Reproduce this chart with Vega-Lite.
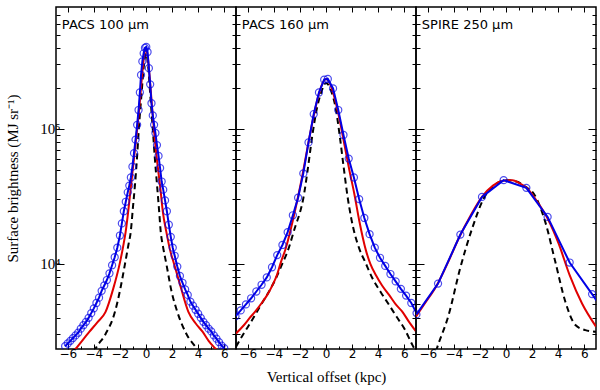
{
  "$schema": "https://vega.github.io/schema/vega-lite/v6.json",
  "padding": {"left": 5, "top": 5, "right": 3, "bottom": 5},
  "background": "white",
  "bounds": "flush",
  "spacing": 0,
  "config": {
    "view": {"stroke": "black", "strokeWidth": 1.5},
    "axis": {"domain": false, "grid": false, "tickColor": "black", "tickWidth": 1, "labelColor": "black", "labelOverlap": false, "labelFlush": false, "titleFontWeight": "normal", "titleColor": "black"}
  },
  "data": {"values": [
    {"p":1,"s":"o","x":-6.2,"v":2455},{"p":1,"s":"o","x":-6.0,"v":2570},{"p":1,"s":"o","x":-5.8,"v":2690},{"p":1,"s":"o","x":-5.6,"v":2820},{"p":1,"s":"o","x":-5.4,"v":2950},{"p":1,"s":"o","x":-5.2,"v":3090},{"p":1,"s":"o","x":-5.0,"v":3310},{"p":1,"s":"o","x":-4.8,"v":3510},{"p":1,"s":"o","x":-4.6,"v":3720},{"p":1,"s":"o","x":-4.4,"v":3980},{"p":1,"s":"o","x":-4.2,"v":4315},{"p":1,"s":"o","x":-4.0,"v":4680},{"p":1,"s":"o","x":-3.8,"v":5130},{"p":1,"s":"o","x":-3.6,"v":5620},{"p":1,"s":"o","x":-3.4,"v":6310},{"p":1,"s":"o","x":-3.2,"v":6920},{"p":1,"s":"o","x":-3.0,"v":7590},{"p":1,"s":"o","x":-2.8,"v":8510},{"p":1,"s":"o","x":-2.6,"v":9770},{"p":1,"s":"o","x":-2.4,"v":11200},{"p":1,"s":"o","x":-2.2,"v":13180},{"p":1,"s":"o","x":-2.0,"v":16220},{"p":1,"s":"o","x":-1.85,"v":19950},{"p":1,"s":"o","x":-1.7,"v":24550},{"p":1,"s":"o","x":-1.55,"v":28840},{"p":1,"s":"o","x":-1.4,"v":33900},{"p":1,"s":"o","x":-1.28,"v":38000},{"p":1,"s":"o","x":-1.16,"v":43650},{"p":1,"s":"o","x":-1.04,"v":52500},{"p":1,"s":"o","x":-0.92,"v":66070},{"p":1,"s":"o","x":-0.8,"v":83180},{"p":1,"s":"o","x":-0.68,"v":107200},{"p":1,"s":"o","x":-0.57,"v":138000},{"p":1,"s":"o","x":-0.47,"v":186200},{"p":1,"s":"o","x":-0.38,"v":251200},{"p":1,"s":"o","x":-0.28,"v":316200},{"p":1,"s":"o","x":-0.18,"v":363100},{"p":1,"s":"o","x":-0.08,"v":398100},{"p":1,"s":"o","x":0.02,"v":404600},{"p":1,"s":"o","x":0.12,"v":371500},{"p":1,"s":"o","x":0.22,"v":281800},{"p":1,"s":"o","x":0.32,"v":213800},{"p":1,"s":"o","x":0.42,"v":154900},{"p":1,"s":"o","x":0.52,"v":125900},{"p":1,"s":"o","x":0.62,"v":107200},{"p":1,"s":"o","x":0.72,"v":93300},{"p":1,"s":"o","x":0.84,"v":75860},{"p":1,"s":"o","x":0.96,"v":63100},{"p":1,"s":"o","x":1.08,"v":51290},{"p":1,"s":"o","x":1.2,"v":40740},{"p":1,"s":"o","x":1.32,"v":35480},{"p":1,"s":"o","x":1.46,"v":29510},{"p":1,"s":"o","x":1.6,"v":24550},{"p":1,"s":"o","x":1.75,"v":19500},{"p":1,"s":"o","x":1.9,"v":15850},{"p":1,"s":"o","x":2.05,"v":13180},{"p":1,"s":"o","x":2.2,"v":11480},{"p":1,"s":"o","x":2.4,"v":9550},{"p":1,"s":"o","x":2.6,"v":8130},{"p":1,"s":"o","x":2.8,"v":7240},{"p":1,"s":"o","x":3.0,"v":6460},{"p":1,"s":"o","x":3.2,"v":5890},{"p":1,"s":"o","x":3.4,"v":5250},{"p":1,"s":"o","x":3.6,"v":4900},{"p":1,"s":"o","x":3.8,"v":4570},{"p":1,"s":"o","x":4.0,"v":4270},{"p":1,"s":"o","x":4.2,"v":3980},{"p":1,"s":"o","x":4.4,"v":3720},{"p":1,"s":"o","x":4.6,"v":3510},{"p":1,"s":"o","x":4.8,"v":3310},{"p":1,"s":"o","x":5.0,"v":3160},{"p":1,"s":"o","x":5.2,"v":2950},{"p":1,"s":"o","x":5.4,"v":2790},{"p":1,"s":"o","x":5.6,"v":2630},{"p":1,"s":"o","x":5.8,"v":2480},{"p":1,"s":"o","x":6.0,"v":2370},
    {"p":1,"s":"m","x":-6.0,"v":2000},{"p":1,"s":"m","x":-5.37,"v":2360},{"p":1,"s":"m","x":-4.35,"v":3130},{"p":1,"s":"m","x":-3.7,"v":3720},{"p":1,"s":"m","x":-3.1,"v":4410},{"p":1,"s":"m","x":-2.5,"v":6610},{"p":1,"s":"m","x":-2.02,"v":10000},{"p":1,"s":"m","x":-1.75,"v":13490},{"p":1,"s":"m","x":-1.56,"v":17260},{"p":1,"s":"m","x":-1.35,"v":25120},{"p":1,"s":"m","x":-1.15,"v":38020},{"p":1,"s":"m","x":-0.9,"v":63100},{"p":1,"s":"m","x":-0.7,"v":95500},{"p":1,"s":"m","x":-0.5,"v":147900},{"p":1,"s":"m","x":-0.3,"v":251200},{"p":1,"s":"m","x":-0.15,"v":346700},{"p":1,"s":"m","x":0,"v":398100},{"p":1,"s":"m","x":0.15,"v":331100},{"p":1,"s":"m","x":0.3,"v":229100},{"p":1,"s":"m","x":0.5,"v":131800},{"p":1,"s":"m","x":0.7,"v":79430},{"p":1,"s":"m","x":0.9,"v":52480},{"p":1,"s":"m","x":1.1,"v":36310},{"p":1,"s":"m","x":1.3,"v":23990},{"p":1,"s":"m","x":1.56,"v":17260},{"p":1,"s":"m","x":1.85,"v":12590},{"p":1,"s":"m","x":2.15,"v":10000},{"p":1,"s":"m","x":2.6,"v":7080},{"p":1,"s":"m","x":3.25,"v":4410},{"p":1,"s":"m","x":3.8,"v":3630},{"p":1,"s":"m","x":4.35,"v":3130},{"p":1,"s":"m","x":4.8,"v":2690},{"p":1,"s":"m","x":5.31,"v":2360},{"p":1,"s":"m","x":5.9,"v":2040},
    {"p":1,"s":"d","x":-4.3,"v":1905},{"p":1,"s":"d","x":-3.88,"v":2340},{"p":1,"s":"d","x":-3.1,"v":3020},{"p":1,"s":"d","x":-2.38,"v":4410},{"p":1,"s":"d","x":-2.0,"v":6310},{"p":1,"s":"d","x":-1.61,"v":10000},{"p":1,"s":"d","x":-1.35,"v":13800},{"p":1,"s":"d","x":-1.17,"v":17260},{"p":1,"s":"d","x":-1.0,"v":26300},{"p":1,"s":"d","x":-0.85,"v":38020},{"p":1,"s":"d","x":-0.68,"v":63100},{"p":1,"s":"d","x":-0.55,"v":100000},{"p":1,"s":"d","x":-0.35,"v":177800},{"p":1,"s":"d","x":-0.15,"v":302000},{"p":1,"s":"d","x":0,"v":363100},{"p":1,"s":"d","x":0.15,"v":302000},{"p":1,"s":"d","x":0.35,"v":166000},{"p":1,"s":"d","x":0.52,"v":100000},{"p":1,"s":"d","x":0.68,"v":60260},{"p":1,"s":"d","x":0.85,"v":38020},{"p":1,"s":"d","x":1.0,"v":25120},{"p":1,"s":"d","x":1.13,"v":17260},{"p":1,"s":"d","x":1.3,"v":13490},{"p":1,"s":"d","x":1.56,"v":10000},{"p":1,"s":"d","x":1.95,"v":6310},{"p":1,"s":"d","x":2.4,"v":4410},{"p":1,"s":"d","x":3.1,"v":3020},{"p":1,"s":"d","x":3.9,"v":2340},{"p":1,"s":"d","x":4.3,"v":2000},
    {"p":2,"s":"o","x":-6.94,"v":4090},{"p":2,"s":"o","x":-6.54,"v":4520},{"p":2,"s":"o","x":-6.14,"v":5010},{"p":2,"s":"o","x":-5.74,"v":5560},{"p":2,"s":"o","x":-5.34,"v":6240},{"p":2,"s":"o","x":-4.94,"v":7000},{"p":2,"s":"o","x":-4.54,"v":7940},{"p":2,"s":"o","x":-4.14,"v":9440},{"p":2,"s":"o","x":-3.74,"v":11610},{"p":2,"s":"o","x":-3.34,"v":13800},{"p":2,"s":"o","x":-2.94,"v":17180},{"p":2,"s":"o","x":-2.54,"v":22910},{"p":2,"s":"o","x":-2.14,"v":30900},{"p":2,"s":"o","x":-1.74,"v":46770},{"p":2,"s":"o","x":-1.34,"v":79430},{"p":2,"s":"o","x":-0.94,"v":128800},{"p":2,"s":"o","x":-0.54,"v":186200},{"p":2,"s":"o","x":-0.14,"v":231700},{"p":2,"s":"o","x":0.14,"v":234400},{"p":2,"s":"o","x":0.54,"v":199500},{"p":2,"s":"o","x":0.94,"v":138000},{"p":2,"s":"o","x":1.34,"v":90160},{"p":2,"s":"o","x":1.74,"v":60260},{"p":2,"s":"o","x":2.14,"v":43650},{"p":2,"s":"o","x":2.54,"v":30200},{"p":2,"s":"o","x":2.94,"v":21880},{"p":2,"s":"o","x":3.34,"v":16600},{"p":2,"s":"o","x":3.74,"v":13180},{"p":2,"s":"o","x":4.14,"v":11090},{"p":2,"s":"o","x":4.54,"v":9660},{"p":2,"s":"o","x":4.94,"v":8410},{"p":2,"s":"o","x":5.34,"v":7410},{"p":2,"s":"o","x":5.74,"v":6530},{"p":2,"s":"o","x":6.14,"v":5820},{"p":2,"s":"o","x":6.54,"v":5130},{"p":2,"s":"o","x":6.94,"v":4320},
    {"p":2,"s":"m","x":-6.9,"v":3050},{"p":2,"s":"m","x":-6.3,"v":3510},{"p":2,"s":"m","x":-5.88,"v":3940},{"p":2,"s":"m","x":-5.4,"v":4470},{"p":2,"s":"m","x":-4.86,"v":5240},{"p":2,"s":"m","x":-4.5,"v":5890},{"p":2,"s":"m","x":-4.1,"v":6950},{"p":2,"s":"m","x":-3.75,"v":8320},{"p":2,"s":"m","x":-3.45,"v":10350},{"p":2,"s":"m","x":-3.1,"v":12880},{"p":2,"s":"m","x":-2.81,"v":16330},{"p":2,"s":"m","x":-2.5,"v":21880},{"p":2,"s":"m","x":-2.17,"v":30480},{"p":2,"s":"m","x":-1.8,"v":45710},{"p":2,"s":"m","x":-1.4,"v":74130},{"p":2,"s":"m","x":-1.0,"v":117500},{"p":2,"s":"m","x":-0.6,"v":173800},{"p":2,"s":"m","x":-0.3,"v":213800},{"p":2,"s":"m","x":0,"v":234400},{"p":2,"s":"m","x":0.3,"v":216300},{"p":2,"s":"m","x":0.6,"v":177800},{"p":2,"s":"m","x":1.0,"v":123000},{"p":2,"s":"m","x":1.4,"v":77620},{"p":2,"s":"m","x":1.8,"v":48980},{"p":2,"s":"m","x":2.17,"v":33110},{"p":2,"s":"m","x":2.55,"v":20890},{"p":2,"s":"m","x":3.06,"v":12590},{"p":2,"s":"m","x":3.4,"v":10000},{"p":2,"s":"m","x":3.83,"v":8240},{"p":2,"s":"m","x":4.3,"v":6920},{"p":2,"s":"m","x":4.85,"v":5860},{"p":2,"s":"m","x":5.35,"v":5010},{"p":2,"s":"m","x":5.86,"v":4410},{"p":2,"s":"m","x":6.3,"v":3800},{"p":2,"s":"m","x":6.9,"v":3160},
    {"p":2,"s":"d","x":-6.9,"v":2430},{"p":2,"s":"d","x":-6.4,"v":2950},{"p":2,"s":"d","x":-5.9,"v":3520},{"p":2,"s":"d","x":-5.0,"v":4940},{"p":2,"s":"d","x":-4.4,"v":6170},{"p":2,"s":"d","x":-3.85,"v":7780},{"p":2,"s":"d","x":-3.4,"v":9770},{"p":2,"s":"d","x":-2.96,"v":12270},{"p":2,"s":"d","x":-2.32,"v":19360},{"p":2,"s":"d","x":-2.0,"v":23990},{"p":2,"s":"d","x":-1.75,"v":30200},{"p":2,"s":"d","x":-1.4,"v":50120},{"p":2,"s":"d","x":-1.05,"v":89130},{"p":2,"s":"d","x":-0.7,"v":141300},{"p":2,"s":"d","x":-0.4,"v":182000},{"p":2,"s":"d","x":0,"v":218800},{"p":2,"s":"d","x":0.4,"v":190500},{"p":2,"s":"d","x":0.75,"v":141300},{"p":2,"s":"d","x":1.05,"v":89130},{"p":2,"s":"d","x":1.35,"v":52480},{"p":2,"s":"d","x":1.65,"v":31620},{"p":2,"s":"d","x":1.95,"v":21380},{"p":2,"s":"d","x":2.55,"v":12970},{"p":2,"s":"d","x":3.0,"v":10350},{"p":2,"s":"d","x":3.57,"v":7780},{"p":2,"s":"d","x":4.2,"v":6170},{"p":2,"s":"d","x":4.85,"v":4940},{"p":2,"s":"d","x":5.4,"v":4070},{"p":2,"s":"d","x":6.0,"v":3320},{"p":2,"s":"d","x":6.64,"v":2490},{"p":2,"s":"d","x":6.9,"v":2240},
    {"p":3,"s":"o","x":-6.87,"v":4220},{"p":3,"s":"o","x":-5.21,"v":7140},{"p":3,"s":"o","x":-3.5,"v":16480},{"p":3,"s":"o","x":-1.84,"v":31330},{"p":3,"s":"o","x":-0.18,"v":41690},{"p":3,"s":"o","x":1.56,"v":36560},{"p":3,"s":"o","x":3.19,"v":22280},{"p":3,"s":"o","x":4.88,"v":10230},{"p":3,"s":"o","x":6.6,"v":5970},{"p":3,"s":"o","x":8.3,"v":3470},
    {"p":3,"s":"m","x":-6.9,"v":4070},{"p":3,"s":"m","x":-6.2,"v":5130},{"p":3,"s":"m","x":-5.3,"v":6950},{"p":3,"s":"m","x":-4.5,"v":10000},{"p":3,"s":"m","x":-3.63,"v":15420},{"p":3,"s":"m","x":-2.7,"v":22910},{"p":3,"s":"m","x":-1.84,"v":31330},{"p":3,"s":"m","x":-1.0,"v":38020},{"p":3,"s":"m","x":-0.2,"v":41210},{"p":3,"s":"m","x":0.5,"v":41690},{"p":3,"s":"m","x":1.0,"v":39810},{"p":3,"s":"m","x":1.56,"v":36730},{"p":3,"s":"m","x":2.4,"v":28840},{"p":3,"s":"m","x":3.19,"v":21680},{"p":3,"s":"m","x":4.03,"v":14160},{"p":3,"s":"m","x":4.88,"v":8240},{"p":3,"s":"m","x":5.83,"v":5080},{"p":3,"s":"m","x":6.9,"v":3430},
    {"p":3,"s":"d","x":-5.6,"v":1905},{"p":3,"s":"d","x":-5.3,"v":2360},{"p":3,"s":"d","x":-4.4,"v":4170},{"p":3,"s":"d","x":-3.52,"v":9230},{"p":3,"s":"d","x":-2.6,"v":18240},{"p":3,"s":"d","x":-1.71,"v":30480},{"p":3,"s":"d","x":-0.8,"v":38900},{"p":3,"s":"d","x":0,"v":41690},{"p":3,"s":"d","x":0.8,"v":40740},{"p":3,"s":"d","x":1.5,"v":37150},{"p":3,"s":"d","x":2.12,"v":33190},{"p":3,"s":"d","x":3.01,"v":20460},{"p":3,"s":"d","x":3.78,"v":10350},{"p":3,"s":"d","x":4.55,"v":5240},{"p":3,"s":"d","x":5.32,"v":3520},{"p":3,"s":"d","x":6.08,"v":3230},{"p":3,"s":"d","x":6.98,"v":3130}
  ]},
  "hconcat": [
    {
      "width": 180, "height": 342,
      "resolve": {"axis": {"x": "independent", "y": "independent"}},
      "layer": [
        {"transform": [{"filter": "datum.p == 1 && datum.s == 'd'"}],
         "mark": {"type": "line", "color": "black", "strokeWidth": 2, "strokeDash": [6, 4], "interpolate": "monotone", "clip": true},
         "encoding": {
           "x": {"field": "x", "type": "quantitative", "scale": {"domain": [-6.9, 6.9], "nice": false, "zero": false},
                 "axis": {"orient": "bottom", "values": [-6,-5,-4,-3,-2,-1,0,1,2,3,4,5,6], "labelExpr": "datum.value % 2 == 0 ? datum.label : ''", "tickSize": {"condition": {"test": "datum.value % 2 == 0", "value": -5}, "value": -3}, "labelFont": "DejaVu Sans", "labelFontSize": 12, "labelPadding": 4, "title": null}},
           "y": {"field": "v", "type": "quantitative", "scale": {"type": "log", "domain": [2340, 800000], "nice": false},
                 "axis": {"orient": "left", "values": [3000,4000,5000,6000,7000,8000,9000,10000,20000,30000,40000,50000,60000,70000,80000,90000,100000,200000,300000,400000,500000,600000,700000], "labelExpr": "datum.value == 10000 ? '10⁴' : datum.value == 100000 ? '10⁵' : ''", "tickSize": {"condition": {"test": "datum.value == 10000 || datum.value == 100000", "value": -8}, "value": -4}, "labelFont": "Liberation Serif", "labelFontSize": 15, "labelPadding": 4, "title": "Surface brightness (MJ sr⁻¹)", "titleFont": "Liberation Serif", "titleFontSize": 15, "titlePadding": 19}}
         }},
        {"transform": [{"filter": "datum.p == 1 && datum.s == 'm'"}],
         "mark": {"type": "line", "color": "#e00000", "strokeWidth": 2, "interpolate": "monotone", "clip": true},
         "encoding": {
           "x": {"field": "x", "type": "quantitative", "scale": {"domain": [-6.9, 6.9], "nice": false, "zero": false},
                 "axis": {"orient": "top", "values": [-6,-5,-4,-3,-2,-1,0,1,2,3,4,5,6], "labels": false, "tickSize": {"condition": {"test": "datum.value % 2 == 0", "value": -5}, "value": -3}, "title": null}},
           "y": {"field": "v", "type": "quantitative", "scale": {"type": "log", "domain": [2340, 800000], "nice": false},
                 "axis": {"orient": "right", "values": [3000,4000,5000,6000,7000,8000,9000,10000,20000,30000,40000,50000,60000,70000,80000,90000,100000,200000,300000,400000,500000,600000,700000], "labels": false, "tickSize": {"condition": {"test": "datum.value == 10000 || datum.value == 100000", "value": -8}, "value": -4}, "title": null}}
         }},
        {"transform": [{"filter": "datum.p == 1 && datum.s == 'o'"}],
         "mark": {"type": "line", "color": "#0000e6", "strokeWidth": 2, "clip": true},
         "encoding": {"x": {"field": "x", "type": "quantitative", "axis": null}, "y": {"field": "v", "type": "quantitative", "axis": null}}},
        {"transform": [{"filter": "datum.p == 1 && datum.s == 'o'"}],
         "mark": {"type": "point", "shape": "circle", "filled": false, "color": "#0000e6", "size": 50, "strokeWidth": 1.2, "clip": true},
         "encoding": {"x": {"field": "x", "type": "quantitative", "axis": null}, "y": {"field": "v", "type": "quantitative", "axis": null}}},
        {"data": {"values": [{"t": "PACS 100 μm"}]},
         "mark": {"type": "text", "align": "left", "baseline": "middle", "font": "DejaVu Sans", "fontSize": 13, "color": "black"},
         "encoding": {"x": {"datum": -6.45, "type": "quantitative", "axis": null}, "y": {"datum": 593000, "type": "quantitative", "axis": null}, "text": {"field": "t"}}}
      ]
    },
    {
      "width": 180, "height": 342,
      "resolve": {"axis": {"x": "independent", "y": "independent"}},
      "layer": [
        {"transform": [{"filter": "datum.p == 2 && datum.s == 'd'"}],
         "mark": {"type": "line", "color": "black", "strokeWidth": 2, "strokeDash": [6, 4], "interpolate": "monotone", "clip": true},
         "encoding": {
           "x": {"field": "x", "type": "quantitative", "scale": {"domain": [-6.9, 6.9], "nice": false, "zero": false},
                 "axis": {"orient": "bottom", "values": [-6,-5,-4,-3,-2,-1,0,1,2,3,4,5,6], "labelExpr": "datum.value % 2 == 0 ? datum.label : ''", "tickSize": {"condition": {"test": "datum.value % 2 == 0", "value": -5}, "value": -3}, "labelFont": "DejaVu Sans", "labelFontSize": 12, "labelPadding": 4, "title": "Vertical offset (kpc)", "titleFont": "Liberation Serif", "titleFontSize": 15, "titlePadding": 8}},
           "y": {"field": "v", "type": "quantitative", "scale": {"type": "log", "domain": [2340, 800000], "nice": false},
                 "axis": {"orient": "left", "values": [3000,4000,5000,6000,7000,8000,9000,10000,20000,30000,40000,50000,60000,70000,80000,90000,100000,200000,300000,400000,500000,600000,700000], "labels": false, "tickSize": {"condition": {"test": "datum.value == 10000 || datum.value == 100000", "value": -8}, "value": -4}, "title": null}}
         }},
        {"transform": [{"filter": "datum.p == 2 && datum.s == 'm'"}],
         "mark": {"type": "line", "color": "#e00000", "strokeWidth": 2, "interpolate": "monotone", "clip": true},
         "encoding": {
           "x": {"field": "x", "type": "quantitative", "scale": {"domain": [-6.9, 6.9], "nice": false, "zero": false},
                 "axis": {"orient": "top", "values": [-6,-5,-4,-3,-2,-1,0,1,2,3,4,5,6], "labels": false, "tickSize": {"condition": {"test": "datum.value % 2 == 0", "value": -5}, "value": -3}, "title": null}},
           "y": {"field": "v", "type": "quantitative", "scale": {"type": "log", "domain": [2340, 800000], "nice": false},
                 "axis": {"orient": "right", "values": [3000,4000,5000,6000,7000,8000,9000,10000,20000,30000,40000,50000,60000,70000,80000,90000,100000,200000,300000,400000,500000,600000,700000], "labels": false, "tickSize": {"condition": {"test": "datum.value == 10000 || datum.value == 100000", "value": -8}, "value": -4}, "title": null}}
         }},
        {"transform": [{"filter": "datum.p == 2 && datum.s == 'o'"}],
         "mark": {"type": "line", "color": "#0000e6", "strokeWidth": 2, "clip": true},
         "encoding": {"x": {"field": "x", "type": "quantitative", "axis": null}, "y": {"field": "v", "type": "quantitative", "axis": null}}},
        {"transform": [{"filter": "datum.p == 2 && datum.s == 'o'"}],
         "mark": {"type": "point", "shape": "circle", "filled": false, "color": "#0000e6", "size": 50, "strokeWidth": 1.2, "clip": true},
         "encoding": {"x": {"field": "x", "type": "quantitative", "axis": null}, "y": {"field": "v", "type": "quantitative", "axis": null}}},
        {"data": {"values": [{"t": "PACS 160 μm"}]},
         "mark": {"type": "text", "align": "left", "baseline": "middle", "font": "DejaVu Sans", "fontSize": 13, "color": "black"},
         "encoding": {"x": {"datum": -6.45, "type": "quantitative", "axis": null}, "y": {"datum": 593000, "type": "quantitative", "axis": null}, "text": {"field": "t"}}}
      ]
    },
    {
      "width": 180, "height": 342,
      "resolve": {"axis": {"x": "independent", "y": "independent"}},
      "layer": [
        {"transform": [{"filter": "datum.p == 3 && datum.s == 'd'"}],
         "mark": {"type": "line", "color": "black", "strokeWidth": 2, "strokeDash": [6, 4], "interpolate": "monotone", "clip": true},
         "encoding": {
           "x": {"field": "x", "type": "quantitative", "scale": {"domain": [-6.9, 6.9], "nice": false, "zero": false},
                 "axis": {"orient": "bottom", "values": [-6,-5,-4,-3,-2,-1,0,1,2,3,4,5,6], "labelExpr": "datum.value % 2 == 0 ? datum.label : ''", "tickSize": {"condition": {"test": "datum.value % 2 == 0", "value": -5}, "value": -3}, "labelFont": "DejaVu Sans", "labelFontSize": 12, "labelPadding": 4, "title": null}},
           "y": {"field": "v", "type": "quantitative", "scale": {"type": "log", "domain": [2340, 800000], "nice": false},
                 "axis": {"orient": "left", "values": [3000,4000,5000,6000,7000,8000,9000,10000,20000,30000,40000,50000,60000,70000,80000,90000,100000,200000,300000,400000,500000,600000,700000], "labels": false, "tickSize": {"condition": {"test": "datum.value == 10000 || datum.value == 100000", "value": -8}, "value": -4}, "title": null}}
         }},
        {"transform": [{"filter": "datum.p == 3 && datum.s == 'm'"}],
         "mark": {"type": "line", "color": "#e00000", "strokeWidth": 2, "interpolate": "monotone", "clip": true},
         "encoding": {
           "x": {"field": "x", "type": "quantitative", "scale": {"domain": [-6.9, 6.9], "nice": false, "zero": false},
                 "axis": {"orient": "top", "values": [-6,-5,-4,-3,-2,-1,0,1,2,3,4,5,6], "labels": false, "tickSize": {"condition": {"test": "datum.value % 2 == 0", "value": -5}, "value": -3}, "title": null}},
           "y": {"field": "v", "type": "quantitative", "scale": {"type": "log", "domain": [2340, 800000], "nice": false},
                 "axis": {"orient": "right", "values": [3000,4000,5000,6000,7000,8000,9000,10000,20000,30000,40000,50000,60000,70000,80000,90000,100000,200000,300000,400000,500000,600000,700000], "labels": false, "tickSize": {"condition": {"test": "datum.value == 10000 || datum.value == 100000", "value": -8}, "value": -4}, "title": null}}
         }},
        {"transform": [{"filter": "datum.p == 3 && datum.s == 'o'"}],
         "mark": {"type": "line", "color": "#0000e6", "strokeWidth": 2, "clip": true},
         "encoding": {"x": {"field": "x", "type": "quantitative", "axis": null}, "y": {"field": "v", "type": "quantitative", "axis": null}}},
        {"transform": [{"filter": "datum.p == 3 && datum.s == 'o'"}],
         "mark": {"type": "point", "shape": "circle", "filled": false, "color": "#0000e6", "size": 50, "strokeWidth": 1.2, "clip": true},
         "encoding": {"x": {"field": "x", "type": "quantitative", "axis": null}, "y": {"field": "v", "type": "quantitative", "axis": null}}},
        {"data": {"values": [{"t": "SPIRE 250 μm"}]},
         "mark": {"type": "text", "align": "left", "baseline": "middle", "font": "DejaVu Sans", "fontSize": 13, "color": "black"},
         "encoding": {"x": {"datum": -6.45, "type": "quantitative", "axis": null}, "y": {"datum": 593000, "type": "quantitative", "axis": null}, "text": {"field": "t"}}}
      ]
    }
  ]
}
